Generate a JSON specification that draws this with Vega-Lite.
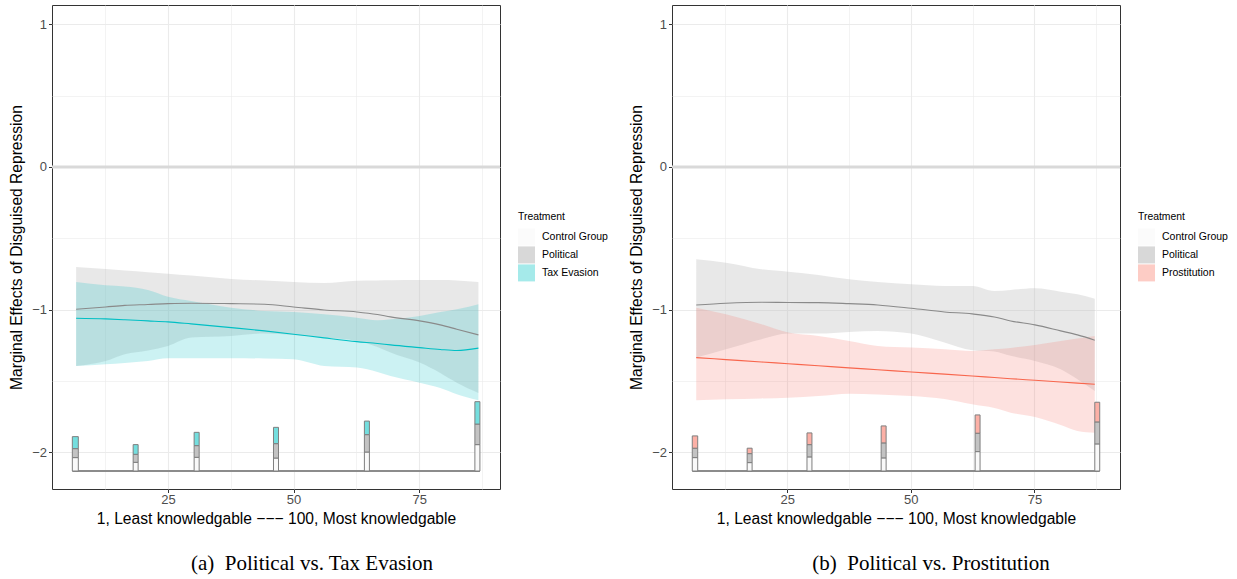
{
  "$schema": "https://vega.github.io/schema/vega-lite/v6.json",
  "padding": {"left": 9, "top": 4, "right": 5, "bottom": 2},
  "bounds": "flush",
  "spacing": 172,
  "config": {
    "view": {"stroke": "#333333", "strokeWidth": 1},
    "axis": {"labelFont": "Liberation Sans", "titleFont": "Liberation Sans", "labelFontSize": 13, "labelColor": "#4d4d4d", "titleFontSize": 15.6, "titleFontWeight": "normal", "titleColor": "#000000", "tickColor": "#333333", "tickSize": 3.5, "domain": false, "gridColor": "#ebebeb"},
    "legend": {"titleFont": "Liberation Sans", "labelFont": "Liberation Sans", "titleFontSize": 10.4, "titleFontWeight": "normal", "titleColor": "#000000", "labelFontSize": 10.5, "labelColor": "#000000", "symbolType": "square", "symbolSize": 289, "symbolStrokeWidth": 0, "symbolOpacity": 0.65, "rowPadding": 1, "titlePadding": 6, "labelOffset": 7}
  },
  "datasets": {
    "zero": [{"v": 0}],
    "curvesA": [
      {"x": 6.7, "g": "Political", "est": -0.997, "lo": -1.395, "hi": -0.701},
      {"x": 12.6, "g": "Political", "est": -0.981, "lo": -1.360, "hi": -0.716},
      {"x": 16.4, "g": "Political", "est": -0.970, "lo": -1.313, "hi": -0.726},
      {"x": 21.0, "g": "Political", "est": -0.964, "lo": -1.286, "hi": -0.738},
      {"x": 25.0, "g": "Political", "est": -0.958, "lo": -1.254, "hi": -0.748},
      {"x": 29.6, "g": "Political", "est": -0.955, "lo": -1.196, "hi": -0.761},
      {"x": 37.6, "g": "Political", "est": -0.958, "lo": -1.184, "hi": -0.785},
      {"x": 44.2, "g": "Political", "est": -0.962, "lo": -1.167, "hi": -0.796},
      {"x": 50.0, "g": "Political", "est": -0.981, "lo": -1.177, "hi": -0.806},
      {"x": 56.1, "g": "Political", "est": -1.002, "lo": -1.196, "hi": -0.813},
      {"x": 62.6, "g": "Political", "est": -1.016, "lo": -1.219, "hi": -0.797},
      {"x": 66.7, "g": "Political", "est": -1.034, "lo": -1.261, "hi": -0.795},
      {"x": 69.3, "g": "Political", "est": -1.051, "lo": -1.301, "hi": -0.794},
      {"x": 75.1, "g": "Political", "est": -1.079, "lo": -1.371, "hi": -0.792},
      {"x": 79.2, "g": "Political", "est": -1.107, "lo": -1.444, "hi": -0.792},
      {"x": 82.5, "g": "Political", "est": -1.137, "lo": -1.512, "hi": -0.795},
      {"x": 86.8, "g": "Political", "est": -1.177, "lo": -1.584, "hi": -0.806},
      {"x": 6.7, "g": "Tax Evasion", "est": -1.060, "lo": -1.395, "hi": -0.806},
      {"x": 12.6, "g": "Tax Evasion", "est": -1.065, "lo": -1.383, "hi": -0.829},
      {"x": 16.4, "g": "Tax Evasion", "est": -1.071, "lo": -1.374, "hi": -0.837},
      {"x": 21.0, "g": "Tax Evasion", "est": -1.079, "lo": -1.360, "hi": -0.862},
      {"x": 25.0, "g": "Tax Evasion", "est": -1.086, "lo": -1.341, "hi": -0.909},
      {"x": 29.6, "g": "Tax Evasion", "est": -1.100, "lo": -1.341, "hi": -0.939},
      {"x": 37.6, "g": "Tax Evasion", "est": -1.126, "lo": -1.341, "hi": -0.986},
      {"x": 44.2, "g": "Tax Evasion", "est": -1.149, "lo": -1.342, "hi": -1.009},
      {"x": 50.0, "g": "Tax Evasion", "est": -1.172, "lo": -1.348, "hi": -1.016},
      {"x": 56.1, "g": "Tax Evasion", "est": -1.198, "lo": -1.395, "hi": -1.032},
      {"x": 62.6, "g": "Tax Evasion", "est": -1.224, "lo": -1.406, "hi": -1.056},
      {"x": 66.7, "g": "Tax Evasion", "est": -1.237, "lo": -1.437, "hi": -1.074},
      {"x": 69.3, "g": "Tax Evasion", "est": -1.247, "lo": -1.465, "hi": -1.067},
      {"x": 75.1, "g": "Tax Evasion", "est": -1.266, "lo": -1.512, "hi": -1.044},
      {"x": 79.2, "g": "Tax Evasion", "est": -1.279, "lo": -1.549, "hi": -1.016},
      {"x": 82.5, "g": "Tax Evasion", "est": -1.286, "lo": -1.593, "hi": -0.997},
      {"x": 86.8, "g": "Tax Evasion", "est": -1.270, "lo": -1.635, "hi": -0.962}
    ],
    "curvesB": [
      {"x": 6.6, "g": "Political", "est": -0.967, "lo": -1.336, "hi": -0.647},
      {"x": 12.6, "g": "Political", "est": -0.955, "lo": -1.278, "hi": -0.671},
      {"x": 19.8, "g": "Political", "est": -0.948, "lo": -1.207, "hi": -0.717},
      {"x": 25.2, "g": "Political", "est": -0.950, "lo": -1.168, "hi": -0.734},
      {"x": 31.3, "g": "Political", "est": -0.951, "lo": -1.168, "hi": -0.757},
      {"x": 37.5, "g": "Political", "est": -0.958, "lo": -1.156, "hi": -0.787},
      {"x": 43.3, "g": "Political", "est": -0.967, "lo": -1.149, "hi": -0.806},
      {"x": 50.1, "g": "Political", "est": -0.990, "lo": -1.168, "hi": -0.822},
      {"x": 56.8, "g": "Political", "est": -1.016, "lo": -1.231, "hi": -0.834},
      {"x": 62.4, "g": "Political", "est": -1.030, "lo": -1.285, "hi": -0.834},
      {"x": 66.9, "g": "Political", "est": -1.051, "lo": -1.294, "hi": -0.869},
      {"x": 70.2, "g": "Political", "est": -1.079, "lo": -1.324, "hi": -0.862},
      {"x": 75.1, "g": "Political", "est": -1.107, "lo": -1.360, "hi": -0.850},
      {"x": 80.3, "g": "Political", "est": -1.149, "lo": -1.418, "hi": -0.874},
      {"x": 83.7, "g": "Political", "est": -1.177, "lo": -1.488, "hi": -0.892},
      {"x": 87.2, "g": "Political", "est": -1.214, "lo": -1.570, "hi": -0.923},
      {"x": 6.6, "g": "Prostitution", "est": -1.336, "lo": -1.635, "hi": -0.986},
      {"x": 12.6, "g": "Prostitution", "est": -1.350, "lo": -1.628, "hi": -1.032},
      {"x": 19.8, "g": "Prostitution", "est": -1.367, "lo": -1.622, "hi": -1.102},
      {"x": 25.2, "g": "Prostitution", "est": -1.379, "lo": -1.617, "hi": -1.161},
      {"x": 31.3, "g": "Prostitution", "est": -1.393, "lo": -1.605, "hi": -1.184},
      {"x": 37.5, "g": "Prostitution", "est": -1.408, "lo": -1.589, "hi": -1.219},
      {"x": 43.3, "g": "Prostitution", "est": -1.421, "lo": -1.594, "hi": -1.254},
      {"x": 50.1, "g": "Prostitution", "est": -1.437, "lo": -1.605, "hi": -1.266},
      {"x": 56.8, "g": "Prostitution", "est": -1.452, "lo": -1.626, "hi": -1.278},
      {"x": 62.4, "g": "Prostitution", "est": -1.465, "lo": -1.663, "hi": -1.289},
      {"x": 66.9, "g": "Prostitution", "est": -1.476, "lo": -1.689, "hi": -1.278},
      {"x": 70.2, "g": "Prostitution", "est": -1.484, "lo": -1.722, "hi": -1.268},
      {"x": 75.1, "g": "Prostitution", "est": -1.495, "lo": -1.752, "hi": -1.247},
      {"x": 80.3, "g": "Prostitution", "est": -1.507, "lo": -1.808, "hi": -1.219},
      {"x": 83.7, "g": "Prostitution", "est": -1.515, "lo": -1.850, "hi": -1.202},
      {"x": 87.2, "g": "Prostitution", "est": -1.523, "lo": -1.862, "hi": -1.184}
    ],
    "baseA": [{"x": 5.95, "xe": 87.1, "y": -2.131}],
    "baseB": [{"x": 5.8, "xe": 88.2, "y": -2.131}],
    "histA": [
      {"g": "Control Group", "x": 5.95, "xe": 7.14, "y": -2.131, "ye": -2.037},
      {"g": "Political", "x": 5.95, "xe": 7.14, "y": -2.037, "ye": -1.974},
      {"g": "Tax Evasion", "x": 5.95, "xe": 7.14, "y": -1.974, "ye": -1.890},
      {"g": "Control Group", "x": 18.06, "xe": 19.05, "y": -2.131, "ye": -2.070},
      {"g": "Political", "x": 18.06, "xe": 19.05, "y": -2.070, "ye": -2.014},
      {"g": "Tax Evasion", "x": 18.06, "xe": 19.05, "y": -2.014, "ye": -1.946},
      {"g": "Control Group", "x": 30.2, "xe": 31.2, "y": -2.131, "ye": -2.035},
      {"g": "Political", "x": 30.2, "xe": 31.2, "y": -2.035, "ye": -1.953},
      {"g": "Tax Evasion", "x": 30.2, "xe": 31.2, "y": -1.953, "ye": -1.860},
      {"g": "Control Group", "x": 46.0, "xe": 47.0, "y": -2.131, "ye": -2.040},
      {"g": "Political", "x": 46.0, "xe": 47.0, "y": -2.040, "ye": -1.939},
      {"g": "Tax Evasion", "x": 46.0, "xe": 47.0, "y": -1.939, "ye": -1.825},
      {"g": "Control Group", "x": 64.1, "xe": 65.1, "y": -2.131, "ye": -1.998},
      {"g": "Political", "x": 64.1, "xe": 65.1, "y": -1.998, "ye": -1.876},
      {"g": "Tax Evasion", "x": 64.1, "xe": 65.1, "y": -1.876, "ye": -1.781},
      {"g": "Control Group", "x": 86.1, "xe": 87.1, "y": -2.131, "ye": -1.946},
      {"g": "Political", "x": 86.1, "xe": 87.1, "y": -1.946, "ye": -1.802},
      {"g": "Tax Evasion", "x": 86.1, "xe": 87.1, "y": -1.802, "ye": -1.645}
    ],
    "histB": [
      {"g": "Control Group", "x": 5.8, "xe": 6.9, "y": -2.131, "ye": -2.037},
      {"g": "Political", "x": 5.8, "xe": 6.9, "y": -2.037, "ye": -1.971},
      {"g": "Prostitution", "x": 5.8, "xe": 6.9, "y": -1.971, "ye": -1.885},
      {"g": "Control Group", "x": 16.9, "xe": 17.9, "y": -2.131, "ye": -2.072},
      {"g": "Political", "x": 16.9, "xe": 17.9, "y": -2.072, "ye": -2.009},
      {"g": "Prostitution", "x": 16.9, "xe": 17.9, "y": -2.009, "ye": -1.971},
      {"g": "Control Group", "x": 29.0, "xe": 30.0, "y": -2.131, "ye": -2.032},
      {"g": "Political", "x": 29.0, "xe": 30.0, "y": -2.032, "ye": -1.946},
      {"g": "Prostitution", "x": 29.0, "xe": 30.0, "y": -1.946, "ye": -1.864},
      {"g": "Control Group", "x": 44.0, "xe": 45.0, "y": -2.131, "ye": -2.039},
      {"g": "Political", "x": 44.0, "xe": 45.0, "y": -2.039, "ye": -1.934},
      {"g": "Prostitution", "x": 44.0, "xe": 45.0, "y": -1.934, "ye": -1.815},
      {"g": "Control Group", "x": 63.0, "xe": 64.0, "y": -2.131, "ye": -1.995},
      {"g": "Political", "x": 63.0, "xe": 64.0, "y": -1.995, "ye": -1.866},
      {"g": "Prostitution", "x": 63.0, "xe": 64.0, "y": -1.866, "ye": -1.738},
      {"g": "Control Group", "x": 87.2, "xe": 88.2, "y": -2.131, "ye": -1.941},
      {"g": "Political", "x": 87.2, "xe": 88.2, "y": -1.941, "ye": -1.787},
      {"g": "Prostitution", "x": 87.2, "xe": 88.2, "y": -1.787, "ye": -1.649}
    ]
  },
  "hconcat": [
    {
      "width": 448,
      "height": 484,
      "title": {"text": "(a)\u00a0\u00a0Political vs. Tax Evasion", "orient": "bottom", "anchor": "middle", "dx": 36, "offset": 26, "font": "Liberation Serif", "fontSize": 21, "fontWeight": "normal", "color": "#000000"},
      "layer": [
        {
          "data": {"name": "curvesA"},
          "mark": {"type": "area", "interpolate": "monotone"},
          "encoding": {
            "x": {"field": "x", "type": "quantitative", "title": "1, Least knowledgable −−− 100, Most knowledgable", "scale": {"domain": [1.9, 91.1], "nice": false, "zero": false},
              "axis": {"values": [12.5, 25, 37.5, 50, 62.5, 75, 87.5], "labelExpr": "datum.value % 25 === 0 ? format(datum.value, 'd') : ''", "tickOpacity": {"condition": {"test": "datum.value % 25 !== 0", "value": 0}, "value": 1}, "gridWidth": {"condition": {"test": "datum.value % 25 !== 0", "value": 0.6}, "value": 1.1}, "labelPadding": 1, "titlePadding": 5, "labelFlush": false}},
            "y": {"field": "lo", "type": "quantitative", "title": "Marginal Effects of Disguised Repression", "scale": {"domain": [-2.257, 1.135], "nice": false, "zero": false},
              "axis": {"values": [-2, -1.5, -1, -0.5, 0, 0.5, 1], "labelExpr": "datum.value % 1 === 0 ? format(datum.value, 'd') : ''", "tickOpacity": {"condition": {"test": "datum.value % 1 !== 0", "value": 0}, "value": 1}, "gridWidth": {"condition": {"test": "datum.value % 1 !== 0", "value": 0.6}, "value": 1.1}, "labelPadding": 2, "titlePadding": 7, "labelFlush": false}},
            "y2": {"field": "hi"},
            "color": {"field": "g", "type": "nominal", "scale": {"domain": ["Political", "Tax Evasion"], "range": ["#bebebe", "#00BFC4"]}, "legend": null},
            "opacity": {"field": "g", "type": "nominal", "scale": {"domain": ["Political", "Tax Evasion"], "range": [0.35, 0.2]}, "legend": null}
          }
        },
        {
          "data": {"name": "zero"},
          "mark": {"type": "rule", "color": "#d9d9d9", "strokeWidth": 3},
          "encoding": {"y": {"field": "v", "type": "quantitative", "title": "Marginal Effects of Disguised Repression"}}
        },
        {
          "data": {"name": "curvesA"},
          "mark": {"type": "line", "interpolate": "monotone", "strokeWidth": 1.1},
          "encoding": {
            "x": {"field": "x", "type": "quantitative", "title": "1, Least knowledgable −−− 100, Most knowledgable"},
            "y": {"field": "est", "type": "quantitative", "title": "Marginal Effects of Disguised Repression"},
            "stroke": {"field": "g", "type": "nominal", "scale": {"domain": ["Political", "Tax Evasion"], "range": ["#8a8a8a", "#00BFC4"]}, "legend": null}
          }
        },
        {
          "data": {"name": "baseA"},
          "mark": {"type": "rule", "color": "#8c8c8c", "strokeWidth": 2},
          "encoding": {
            "x": {"field": "x", "type": "quantitative", "title": "1, Least knowledgable −−− 100, Most knowledgable"},
            "x2": {"field": "xe"},
            "y": {"field": "y", "type": "quantitative", "title": "Marginal Effects of Disguised Repression"}
          }
        },
        {
          "data": {"name": "histA"},
          "mark": {"type": "rect", "stroke": "#7f7f7f", "strokeWidth": 1},
          "encoding": {
            "x": {"field": "x", "type": "quantitative", "title": "1, Least knowledgable −−− 100, Most knowledgable"},
            "x2": {"field": "xe"},
            "y": {"field": "y", "type": "quantitative", "title": "Marginal Effects of Disguised Repression"},
            "y2": {"field": "ye"},
            "fill": {"field": "g", "type": "nominal", "scale": {"domain": ["Control Group", "Political", "Tax Evasion"], "range": ["#f9f9f9", "#c3c3c3", "#74dede"]},
              "legend": {"title": "Treatment", "orient": "none", "legendX": 466, "legendY": 207}}
          }
        }
      ]
    },
    {
      "width": 448,
      "height": 484,
      "title": {"text": "(b)\u00a0\u00a0Political vs. Prostitution", "orient": "bottom", "anchor": "middle", "dx": 35, "offset": 26, "font": "Liberation Serif", "fontSize": 21, "fontWeight": "normal", "color": "#000000"},
      "layer": [
        {
          "data": {"name": "curvesB"},
          "mark": {"type": "area", "interpolate": "monotone"},
          "encoding": {
            "x": {"field": "x", "type": "quantitative", "title": "1, Least knowledgable −−− 100, Most knowledgable", "scale": {"domain": [1.7, 92.3], "nice": false, "zero": false},
              "axis": {"values": [12.5, 25, 37.5, 50, 62.5, 75, 87.5], "labelExpr": "datum.value % 25 === 0 ? format(datum.value, 'd') : ''", "tickOpacity": {"condition": {"test": "datum.value % 25 !== 0", "value": 0}, "value": 1}, "gridWidth": {"condition": {"test": "datum.value % 25 !== 0", "value": 0.6}, "value": 1.1}, "labelPadding": 1, "titlePadding": 5, "labelFlush": false}},
            "y": {"field": "lo", "type": "quantitative", "title": "Marginal Effects of Disguised Repression", "scale": {"domain": [-2.257, 1.135], "nice": false, "zero": false},
              "axis": {"values": [-2, -1.5, -1, -0.5, 0, 0.5, 1], "labelExpr": "datum.value % 1 === 0 ? format(datum.value, 'd') : ''", "tickOpacity": {"condition": {"test": "datum.value % 1 !== 0", "value": 0}, "value": 1}, "gridWidth": {"condition": {"test": "datum.value % 1 !== 0", "value": 0.6}, "value": 1.1}, "labelPadding": 2, "titlePadding": 7, "labelFlush": false}},
            "y2": {"field": "hi"},
            "color": {"field": "g", "type": "nominal", "scale": {"domain": ["Political", "Prostitution"], "range": ["#bebebe", "#F8766D"]}, "legend": null},
            "opacity": {"field": "g", "type": "nominal", "scale": {"domain": ["Political", "Prostitution"], "range": [0.35, 0.22]}, "legend": null}
          }
        },
        {
          "data": {"name": "zero"},
          "mark": {"type": "rule", "color": "#d9d9d9", "strokeWidth": 3},
          "encoding": {"y": {"field": "v", "type": "quantitative", "title": "Marginal Effects of Disguised Repression"}}
        },
        {
          "data": {"name": "curvesB"},
          "mark": {"type": "line", "interpolate": "monotone", "strokeWidth": 1.1},
          "encoding": {
            "x": {"field": "x", "type": "quantitative", "title": "1, Least knowledgable −−− 100, Most knowledgable"},
            "y": {"field": "est", "type": "quantitative", "title": "Marginal Effects of Disguised Repression"},
            "stroke": {"field": "g", "type": "nominal", "scale": {"domain": ["Political", "Prostitution"], "range": ["#8a8a8a", "#F8664D"]}, "legend": null}
          }
        },
        {
          "data": {"name": "baseB"},
          "mark": {"type": "rule", "color": "#8c8c8c", "strokeWidth": 2},
          "encoding": {
            "x": {"field": "x", "type": "quantitative", "title": "1, Least knowledgable −−− 100, Most knowledgable"},
            "x2": {"field": "xe"},
            "y": {"field": "y", "type": "quantitative", "title": "Marginal Effects of Disguised Repression"}
          }
        },
        {
          "data": {"name": "histB"},
          "mark": {"type": "rect", "stroke": "#7f7f7f", "strokeWidth": 1},
          "encoding": {
            "x": {"field": "x", "type": "quantitative", "title": "1, Least knowledgable −−− 100, Most knowledgable"},
            "x2": {"field": "xe"},
            "y": {"field": "y", "type": "quantitative", "title": "Marginal Effects of Disguised Repression"},
            "y2": {"field": "ye"},
            "fill": {"field": "g", "type": "nominal", "scale": {"domain": ["Control Group", "Political", "Prostitution"], "range": ["#f9f9f9", "#c3c3c3", "#fcb0a6"]},
              "legend": {"title": "Treatment", "orient": "none", "legendX": 466, "legendY": 207}}
          }
        }
      ]
    }
  ],
  "resolve": {"scale": {"x": "independent", "y": "independent", "color": "independent", "stroke": "independent", "fill": "independent", "opacity": "independent"}, "legend": {"fill": "independent"}}
}
